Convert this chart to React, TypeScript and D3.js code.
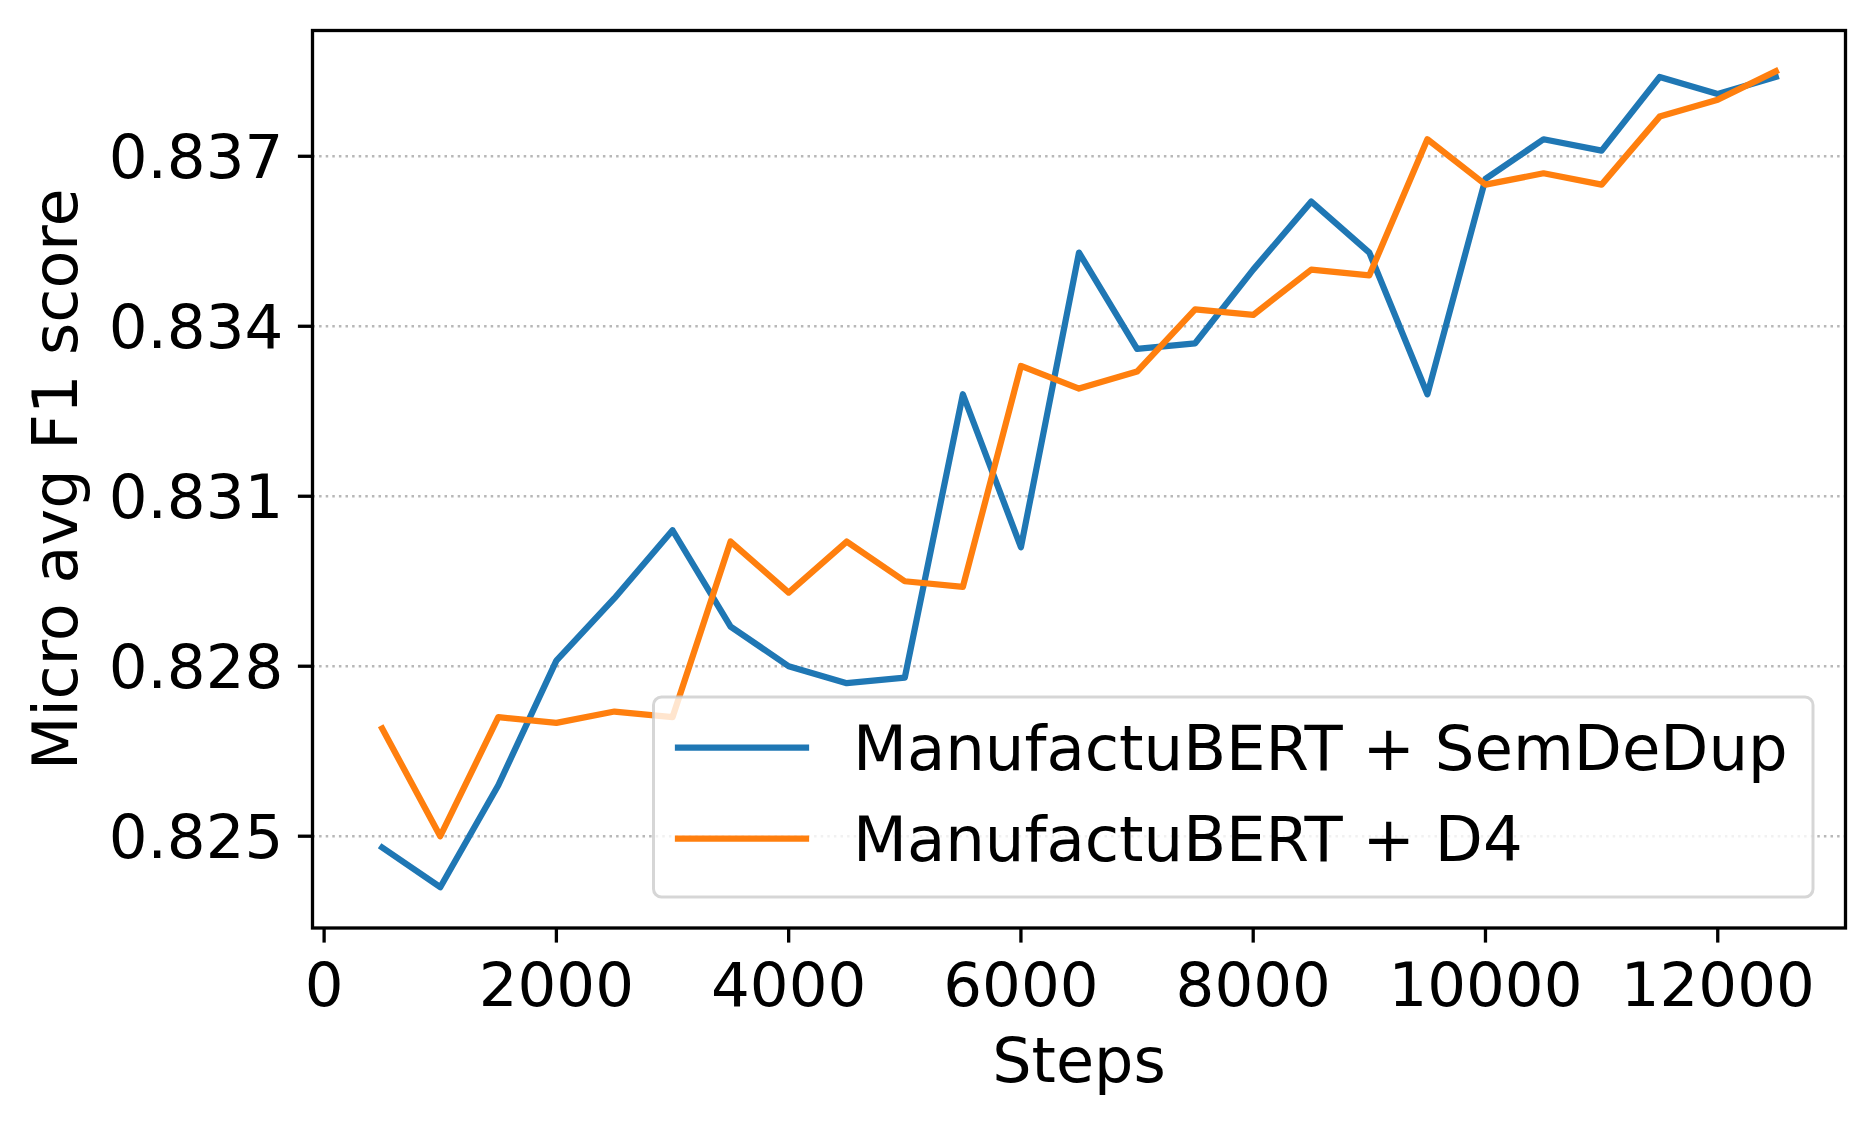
import React from "react";
import * as d3 from "d3";

// training steps on the x axis
const steps = [
  500, 1000, 1500, 2000, 2500, 3000, 3500, 4000, 4500, 5000, 5500, 6000, 6500,
  7000, 7500, 8000, 8500, 9000, 9500, 10000, 10500, 11000, 11500, 12000, 12500,
];

const semDeDup = [
  0.8248, 0.8241, 0.8259, 0.8281, 0.8292, 0.8304, 0.8287, 0.828, 0.8277,
  0.8278, 0.8328, 0.8301, 0.8353, 0.8336, 0.8337, 0.835, 0.8362, 0.8353,
  0.8328, 0.8366, 0.8373, 0.8371, 0.8384, 0.8381, 0.8384,
];

const d4 = [
  0.8269, 0.825, 0.8271, 0.827, 0.8272, 0.8271, 0.8302, 0.8293, 0.8302,
  0.8295, 0.8294, 0.8333, 0.8329, 0.8332, 0.8343, 0.8342, 0.835, 0.8349,
  0.8373, 0.8365, 0.8367, 0.8365, 0.8377, 0.838, 0.8385,
];

const seriesNames = ["ManufactuBERT + SemDeDup", "ManufactuBERT + D4"];
const seriesColors = ["#1f77b4", "#ff7f0e"];

const xTicks = [0, 2000, 4000, 6000, 8000, 10000, 12000];
const yTicks = [0.825, 0.828, 0.831, 0.834, 0.837];

const W = 1875;
const H = 1125;
const FONT = "'DejaVu Sans', sans-serif";
const FS = 62;
const TICK_FS = 61;

const App = () => {
  const margin = { top: 30.5, right: 29.5, bottom: 197, left: 312.5 };
  const x0 = margin.left;
  const x1 = W - margin.right;
  const y0 = margin.top;
  const y1 = H - margin.bottom;

  // matplotlib style 5% padding around data
  const xPad = (d3.max(steps) - d3.min(steps)) * 0.05;
  const x = d3
    .scaleLinear()
    .domain([d3.min(steps) - xPad, d3.max(steps) + xPad])
    .range([x0, x1]);

  const allY = semDeDup.concat(d4);
  const yPad = (d3.max(allY) - d3.min(allY)) * 0.05;
  const y = d3
    .scaleLinear()
    .domain([d3.min(allY) - yPad, d3.max(allY) + yPad])
    .range([y1, y0]);

  const line = d3
    .line()
    .x((d) => x(d[0]))
    .y((d) => y(d[1]));

  const series = [semDeDup, d4].map((vals) => steps.map((s, i) => [s, vals[i]]));

  const tickLen = 14.6;
  const pad = 14.6;

  // legend box
  const lg = { x: 653.5, y: 697, w: 1159.5, h: 200 };
  const legendRows = [747.5, 838.5];

  return (
    <svg
      width={W}
      height={H}
      style={{ position: "absolute", left: 0, top: 0, background: "#fff" }}
      fontFamily={FONT}
    >
      <rect x={0} y={0} width={W} height={H} fill="#fff" />
      {/* grid */}
      <g>
        {yTicks.map((t) => (
          <line
            key={t}
            x1={x0}
            x2={x1}
            y1={y(t)}
            y2={y(t)}
            stroke="#b8b8b8"
            strokeWidth={2.5}
            strokeDasharray="2.5 4.1"
          />
        ))}
      </g>
      {/* lines */}
      <g fill="none">
        {series.map((s, i) => (
          <path
            key={i}
            d={line(s)}
            stroke={seriesColors[i]}
            strokeWidth={6.25}
            strokeLinejoin="round"
            strokeLinecap="square"
          />
        ))}
      </g>
      {/* spines */}
      <rect
        x={x0}
        y={y0}
        width={x1 - x0}
        height={y1 - y0}
        fill="none"
        stroke="#000"
        strokeWidth={3.3}
      />
      {/* y axis */}
      <g>
        {yTicks.map((t) => (
          <g key={t}>
            <line
              x1={x0 - tickLen}
              x2={x0}
              y1={y(t)}
              y2={y(t)}
              stroke="#000"
              strokeWidth={3.3}
            />
            <text
              x={x0 - tickLen - pad}
              y={y(t)}
              dy="0.36em"
              textAnchor="end"
              fontSize={TICK_FS}
              fill="#000"
            >
              {d3.format(".3f")(t)}
            </text>
          </g>
        ))}
      </g>
      {/* x axis */}
      <g>
        {xTicks.map((t) => (
          <g key={t}>
            <line
              x1={x(t)}
              x2={x(t)}
              y1={y1}
              y2={y1 + tickLen}
              stroke="#000"
              strokeWidth={3.3}
            />
            <text
              x={x(t)}
              y={1005.5}
              textAnchor="middle"
              fontSize={TICK_FS}
              fill="#000"
            >
              {t}
            </text>
          </g>
        ))}
      </g>
      <text
        x={(x0 + x1) / 2}
        y={1081.5}
        textAnchor="middle"
        fontSize={FS}
        fill="#000"
      >
        Steps
      </text>
      <text
        transform={`translate(77,${(y0 + y1) / 2}) rotate(-90)`}
        textAnchor="middle"
        fontSize={FS}
        fill="#000"
      >
        Micro avg F1 score
      </text>
      {/* legend */}
      <g>
        <rect
          x={lg.x}
          y={lg.y}
          width={lg.w}
          height={lg.h}
          rx={8}
          ry={8}
          fill="#fff"
          fillOpacity={0.8}
          stroke="#cccccc"
          strokeOpacity={0.8}
          strokeWidth={3}
        />
        {seriesNames.map((name, i) => (
          <g key={name}>
            <line
              x1={678}
              x2={806}
              y1={legendRows[i]}
              y2={legendRows[i]}
              stroke={seriesColors[i]}
              strokeWidth={6.25}
              strokeLinecap="square"
            />
            <text x={853} y={legendRows[i] + 22.5} fontSize={FS + 0.5} fill="#000">
              {name}
            </text>
          </g>
        ))}
      </g>
    </svg>
  );
};

export default App;
